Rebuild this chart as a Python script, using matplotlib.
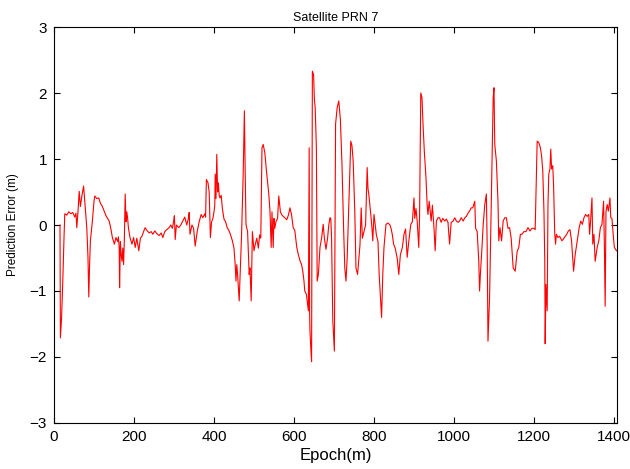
import matplotlib
matplotlib.use("Agg")
import matplotlib.pyplot as plt

epoch = [15, 16, 19, 22, 25, 27, 32, 37, 42, 47, 52, 55, 57, 60, 63, 66, 70, 74, 78, 82, 85, 87, 89, 91, 96,
         100, 102, 107, 112, 116, 121, 126, 130, 134, 138, 142, 146, 151, 155, 159, 161, 163, 164, 166, 168,
         170, 172, 174, 176, 178, 180, 182, 184, 186, 190, 195, 199, 203, 207, 212, 216, 220, 224, 228,
         232, 238, 243, 247, 252, 257, 263, 268, 272, 277, 280, 288, 292, 296, 299, 301, 303, 306, 312, 317,
         322, 327, 332, 336, 338, 340, 345, 349, 353, 358, 363, 368, 372, 377, 379, 381, 385, 388, 391, 394,
         397, 400, 402, 403, 405, 407, 409, 411, 413, 415, 418, 421, 425, 429, 433, 437, 441, 446, 450, 453,
         455, 457, 459, 463, 465, 469, 473, 476, 478, 480, 484, 488, 490, 493, 496, 500, 503, 507, 511, 514,
         517, 520, 523, 527, 532, 537, 540, 543, 545, 548, 550, 552, 555, 559, 562, 566, 570, 577, 582, 586,
         590, 594, 598, 602, 607, 611, 615, 619, 622, 625, 627, 631, 636, 638, 639, 640, 642, 644, 646, 649,
         651, 653, 655, 656, 658, 661, 665, 669, 673, 676, 680, 684, 687, 690, 692, 694, 697, 701, 704, 708,
         712, 716, 720, 724, 727, 730, 733, 738, 742, 745, 748, 752, 755, 759, 763, 765, 768, 771, 775, 779,
         783, 785, 787, 792, 795, 797, 800, 803, 806, 810, 813, 819, 822, 825, 830, 835, 840, 843, 846, 849,
         853, 858, 862, 866, 871, 875, 879, 883, 887, 892, 896, 900, 902, 905, 908, 912, 914, 917, 920, 923,
         926, 930, 933, 935, 938, 943, 946, 950, 953, 956, 960, 964, 968, 972, 977, 981, 985, 989, 993, 998,
         1002, 1006, 1010, 1014, 1018, 1023, 1027, 1031, 1035, 1039, 1043, 1047, 1052, 1054, 1058, 1062, 1064,
         1066, 1070, 1073, 1077, 1081, 1083, 1085, 1089, 1093, 1098, 1100, 1102, 1106, 1110, 1112, 1115, 1119,
         1123, 1127, 1131, 1135, 1139, 1143, 1148, 1153, 1158, 1162, 1166, 1170, 1175, 1180, 1185, 1190, 1195,
         1200, 1203, 1208, 1212, 1216, 1219, 1222, 1225, 1227, 1228, 1230, 1233, 1235, 1237, 1240, 1242, 1244,
         1247, 1249, 1252, 1254, 1256, 1260, 1264, 1270, 1276, 1282, 1286, 1290, 1294, 1299, 1303, 1308, 1313,
         1317, 1321, 1325, 1329, 1333, 1337, 1339, 1341, 1345, 1347, 1350, 1353, 1358, 1362, 1366, 1370, 1374,
         1376, 1378, 1380, 1383, 1386, 1390, 1392, 1395, 1398, 1401, 1404, 1407]

error = [0.0, -1.71, -1.4, -0.85, -0.2, 0.17, 0.15, 0.2, 0.17, 0.19, 0.12, 0.18, -0.04, 0.2, 0.51, 0.28, 0.45,
         0.59, 0.28, -0.04, -0.5, -1.09, -0.6, -0.24, 0.06,
         0.36, 0.44, 0.4, 0.41, 0.33, 0.28, 0.2, 0.14, 0.1, 0.06, -0.05, -0.19, -0.29, -0.19, -0.25, -0.18,
         -0.34, -0.95, -0.25, -0.45, -0.55, -0.35, -0.6, -0.2, 0.47, 0.05, 0.2, 0.11, -0.04, -0.19, -0.29,
         -0.19, -0.34, -0.2, -0.39, -0.2, -0.17, -0.1, -0.04,
         -0.08, -0.12, -0.1, -0.14, -0.09, -0.13, -0.16, -0.12, -0.19, -0.1, -0.08, -0.04, 0.0, -0.05, 0.05,
         0.14, -0.22, 0.0, -0.04, 0.0,
         0.06, 0.12, 0.0, 0.1, 0.19, -0.14, 0.0, -0.05, -0.32, -0.1, 0.05, 0.16, 0.11, 0.17, 0.12, 0.69,
         0.64, 0.5, -0.19, 0.05,
         0.09, 0.2, 0.3, 0.77, 0.4, 1.07, 0.5, 0.64, 0.45, 0.41, 0.45, 0.25, 0.09, 0.05, -0.04, -0.08, -0.14,
         -0.24, -0.35, -0.6,
         -0.85, -0.6, -0.75, -1.15, -0.8, -0.14, 0.77, 1.73, 0.8, 0.01, -0.1, -0.75, -0.65, -1.15, -0.1,
         -0.39, -0.3, -0.2, -0.35, -0.15,
         -0.2, 1.17, 1.22, 1.1, 0.77, 0.47, 0.21, -0.34, 0.2, -0.34, 0.1, -0.05, 0.05, 0.1, 0.44, 0.2, 0.15,
         0.11, 0.08, 0.15,
         0.26, 0.15, -0.04, -0.08, -0.34, -0.45, -0.54, -0.6, -0.7, -0.85, -1.0, -1.05, -1.3, 1.17, -1.3,
         -1.61, -1.86, -2.07, 2.33, 2.28,
         1.9, 1.78, 1.4, 1.17, -0.85, -0.75, -0.34, -0.2, 0.01, -0.2, -0.37, -0.2, 0.0, 0.11, 0.1, -0.2,
         -1.45, -1.91, 1.53, 1.78,
         1.88, 1.6, 0.92, -0.04, -0.65, -0.85, -0.5, 0.47, 1.27, 1.2, 0.97, 0.21, -0.65, -0.75, -0.44, -0.3,
         0.26, -0.2, -0.1, 0.0,
         0.87, 0.55, 0.47, 0.16, -0.05, -0.24, 0.16, 0.0, -0.15, -0.25, -0.75, -1.4, -0.75, -0.34, 0.01,
         0.03, 0.0, -0.06, -0.15, -0.29,
         -0.35, -0.5, -0.75, -0.45, -0.34, -0.14, -0.06, -0.49, -0.25, 0.01, 0.05, 0.41, 0.1, 0.25, 0.06,
         -0.34, 0.15, 2.0, 1.93, 1.47,
         1.1, 0.72, 0.3, 0.16, 0.36, 0.06, 0.3, -0.04, -0.39, 0.06, 0.11, 0.11, 0.04, 0.1, 0.06, 0.09, 0.04,
         -0.29, 0.04, 0.06,
         0.11, 0.06, 0.04, 0.06, 0.11, 0.06, 0.11, 0.13, 0.18, 0.21, 0.26, 0.26, 0.36, -0.05, -0.1, -0.55,
         -1.0,
         -0.75, -0.34, 0.0, 0.31, 0.47, -0.3, -1.76, -1.1, 0.26, 1.93, 2.08, 1.22, 0.97, 0.36, -0.24, -0.04,
         -0.24,
         0.06, 0.11, 0.11, -0.05, -0.04, -0.2, -0.65, -0.7, -0.4, -0.34, -0.14, -0.14, -0.1, -0.1, -0.04,
         -0.09, -0.05,
         -0.05, -0.07, 1.27, 1.25, 1.17, 1.05, 0.82, 0.2, -0.55, -1.8, -0.9, -1.3, 0.3, 0.77, 0.85, 1.15,
         0.85,
         0.9, 0.6, -0.14, -0.29, -0.14, -0.19, -0.17, -0.24, -0.19, -0.14, -0.09, -0.07, -0.24, -0.7, -0.45,
         -0.24, -0.04,
         0.06, 0.01, 0.11, 0.16, 0.13, 0.16, -0.14, 0.01, 0.41, -0.29, -0.14, -0.55, -0.34, -0.24, -0.04,
         0.01, 0.36,
         -0.3, -1.23, 0.2, 0.31, 0.21, 0.41, 0.11, 0.1, -0.14, -0.34, -0.37, -0.39]

x_ticks = [0, 200, 400, 600, 800, 1000, 1200, 1400]
y_ticks = [-3, -2, -1, 0, 1, 2, 3]

plt.rcParams['font.family'] = ['Liberation Sans', 'DejaVu Sans']

fig = plt.figure(figsize=(6.3, 4.69), dpi=100)
ax = fig.add_axes([0.0857, 0.0981, 0.8933, 0.8443])
ax.plot(epoch, error, color='#ff0000', linewidth=0.8)
ax.set_xlim(0, 1407)
ax.set_ylim(-3, 3)
ax.set_xticks(x_ticks)
ax.set_yticks(y_ticks)
ax.tick_params(direction='in', length=4.5, width=0.8, top=True, right=True,
               labelsize=11, pad=5)
for s in ax.spines.values():
    s.set_linewidth(0.8)
ax.set_title('Satellite PRN 7', fontsize=9, pad=4)
ax.set_xlabel('Epoch(m)', fontsize=12, labelpad=3)
ax.set_ylabel('Prediction Error (m)', fontsize=8.5, labelpad=8)
fig.savefig('out.png', dpi=100)
